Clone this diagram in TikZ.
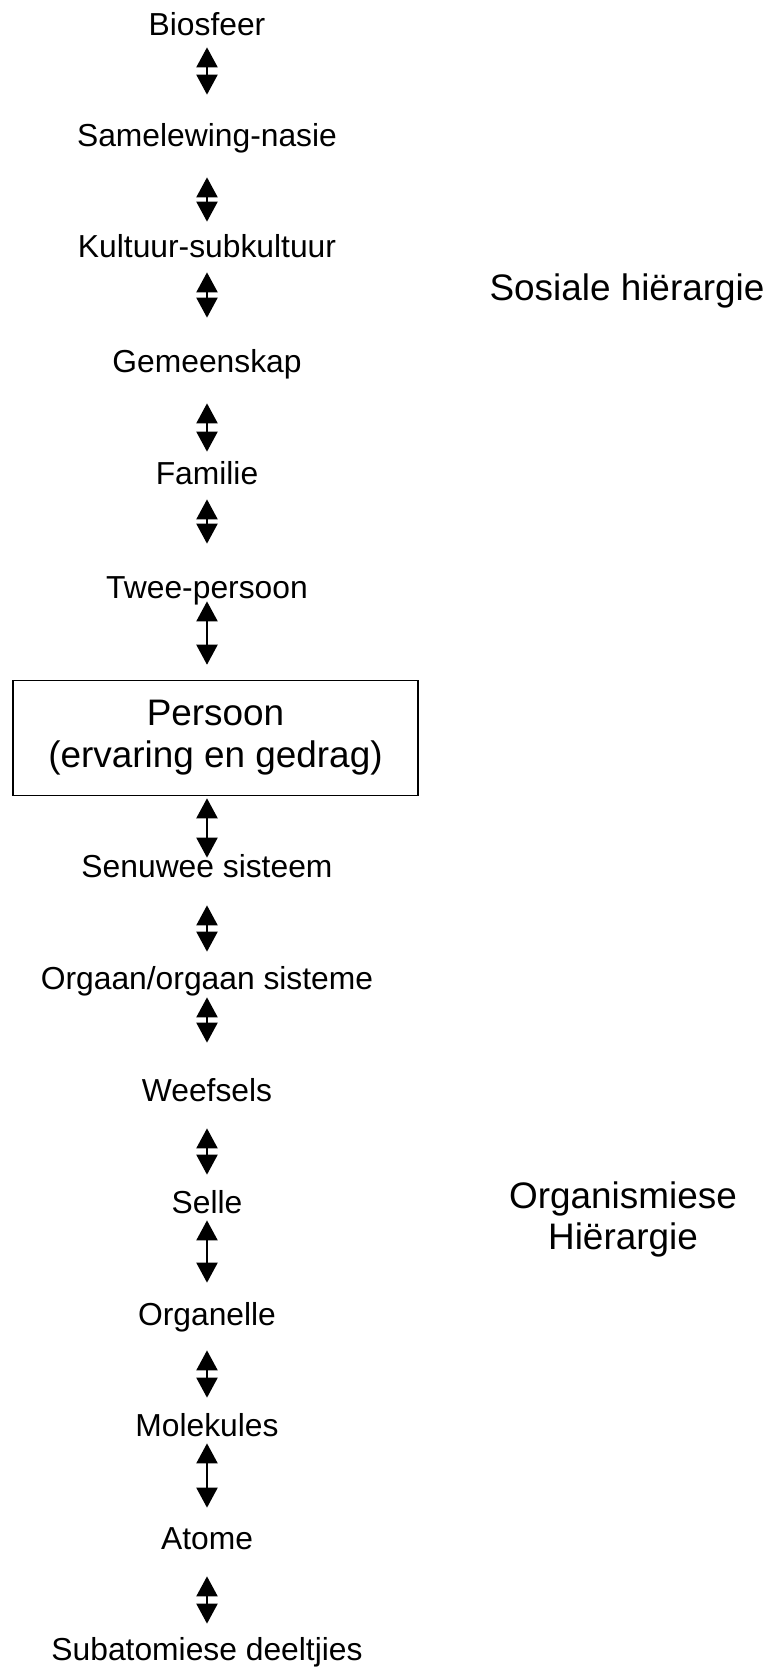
\documentclass[tikz,border=0pt]{standalone}
\usepackage{fontspec}
\setmainfont{Liberation Sans}
\usetikzlibrary{arrows.meta}
\tikzstyle{level}=[inner sep=0pt, text height=0.46cm, text depth=0pt, anchor=base, font=\fontsize{18.1}{21}\selectfont]
\tikzstyle{heading}=[inner sep=0pt, align=center, font=\fontsize{21}{23.8}\selectfont]
\tikzstyle{mainbox}=[draw, line width=0.9pt, minimum width=8.1cm, minimum height=2.3cm, inner sep=0pt, align=center, font=\fontsize{21}{23.8}\selectfont]
\tikzstyle{link}=[{Triangle[length=0.4cm,width=0.42cm]}-{Triangle[length=0.4cm,width=0.42cm]}, line width=1.2pt]

\begin{document}
\begin{tikzpicture}[x=0.02cm, y=-0.02cm]
		\useasboundingbox (0,0) rectangle (775,1667);
		\node[level] (bio) at (207,35) {Biosfeer};
		\node[level] (sam) at (207,146) {Samelewing-nasie};
		\node[level] (kul) at (207,257) {Kultuur-subkultuur};
		\node[level] (gem) at (207,372) {Gemeenskap};
		\node[level] (fam) at (207,484) {Familie};
		\node[level] (twee) at (207,598) {Twee-persoon};
		\node[mainbox] (persoon) at (215.5,738) {Persoon\\(ervaring en gedrag)};
		\node[level] (sen) at (207,877) {Senuwee sisteem};
		\node[level] (org) at (207,989) {Orgaan/orgaan sisteme};
		\node[level] (wee) at (207,1101) {Weefsels};
		\node[level] (sel) at (207,1213) {Selle};
		\node[level] (orgn) at (207,1325) {Organelle};
		\node[level] (mol) at (207,1436) {Molekules};
		\node[level] (atm) at (207,1549) {Atome};
		\node[level] (sub) at (207,1660) {Subatomiese deeltjies};
		\node[heading, anchor=base] (sos) at (627,300) {Sosiale hiërargie};
		\node[heading] (orgh) at (623,1219.5) {Organismiese\\Hiërargie};

		\draw[link, shorten <=0.24cm, shorten >=0.56cm] (bio) -- (sam);
		\draw[link, shorten <=0.62cm, shorten >=0.24cm] (sam) -- (kul);
		\draw[link, shorten <=0.3cm, shorten >=0.62cm] (kul) -- (gem);
		\draw[link, shorten <=0.62cm, shorten >=0.18cm] (gem) -- (fam);
		\draw[link, shorten <=0.3cm, shorten >=0.62cm] (fam) -- (twee);
		\draw[link, shorten <=0.06cm, shorten >=0.3cm] (twee) -- (twee |- persoon.north);
		\draw[link, shorten <=0.04cm, shorten >=-0.08cm] (persoon.south -| sen) -- (sen);
		\draw[link, shorten <=0.56cm, shorten >=0.28cm] (sen) -- (org);
		\draw[link, shorten <=0.16cm, shorten >=0.7cm] (org) -- (wee);
		\draw[link, shorten <=0.54cm, shorten >=0.3cm] (wee) -- (sel);
		\draw[link, shorten <=0.14cm, shorten >=0.38cm] (sel) -- (orgn);
		\draw[link, shorten <=0.5cm, shorten >=0.3cm] (orgn) -- (mol);
		\draw[link, shorten <=0.14cm, shorten >=0.36cm] (mol) -- (atm);
		\draw[link, shorten <=0.54cm, shorten >=0.26cm] (atm) -- (sub);
	\end{tikzpicture}
\end{document}
